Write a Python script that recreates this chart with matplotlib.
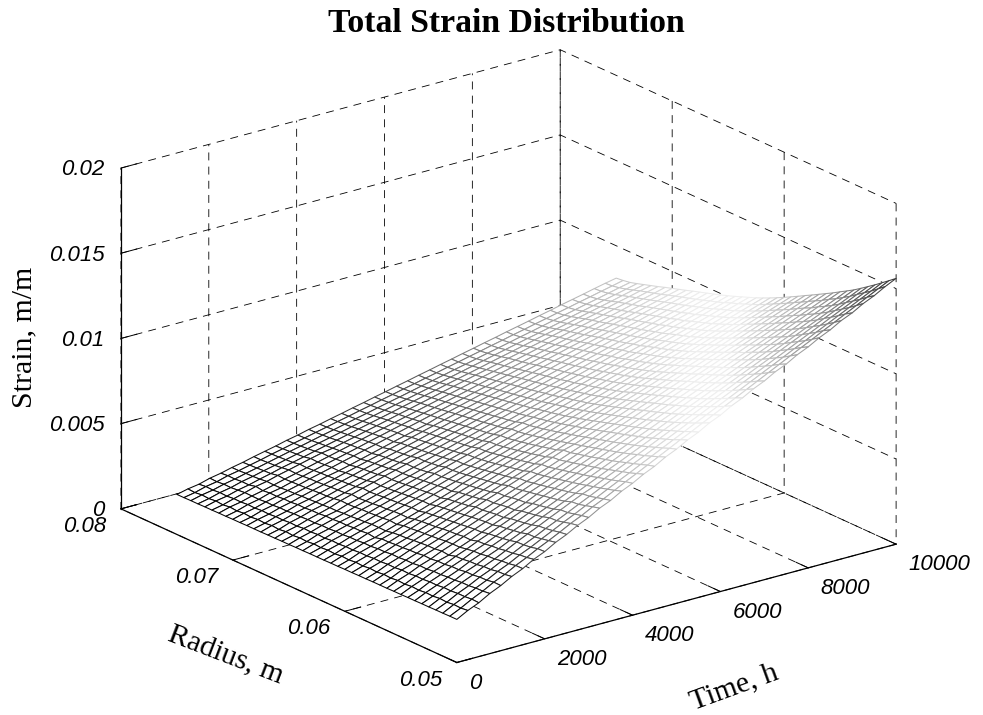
import matplotlib
matplotlib.use("Agg")
import matplotlib.pyplot as plt
import numpy as np
from matplotlib.colors import LinearSegmentedColormap, Normalize

time_h = [0, 250, 500, 750, 1000, 1250, 1500, 1750, 2000, 2250, 2500, 2750, 3000, 3250,
          3500, 3750, 4000, 4250, 4500, 4750, 5000, 5250, 5500, 5750, 6000, 6250, 6500,
          6750, 7000, 7250, 7500, 7750, 8000, 8250, 8500, 8750, 9000, 9250, 9500, 9750, 10000]
radius_m = [0.05, 0.050625, 0.05125, 0.051875, 0.0525, 0.053125, 0.05375, 0.054375, 0.055,
            0.055625, 0.05625, 0.056875, 0.0575, 0.058125, 0.05875, 0.059375, 0.06, 0.060625,
            0.06125, 0.061875, 0.0625, 0.063125, 0.06375, 0.064375, 0.065, 0.065625, 0.06625,
            0.066875, 0.0675, 0.068125, 0.06875, 0.069375, 0.07, 0.070625, 0.07125, 0.071875,
            0.0725, 0.073125, 0.07375, 0.074375, 0.075]
# strain in 1e-5 m/m, rows are radius, columns are time
strain_e5 = [
    [253, 288, 316, 353, 382, 418, 447, 484, 512, 549, 578, 614, 643, 680, 708, 745, 774, 810, 839, 876, 905, 941, 970, 1007, 1035, 1072, 1101, 1137, 1166, 1203, 1231, 1268, 1297, 1333, 1362, 1399, 1427, 1464, 1493, 1529, 1560],
    [253, 283, 318, 348, 383, 411, 446, 476, 510, 540, 572, 606, 635, 669, 698, 731, 764, 795, 827, 859, 891, 924, 954, 987, 1018, 1050, 1082, 1114, 1146, 1178, 1210, 1242, 1274, 1305, 1338, 1369, 1401, 1433, 1465, 1497, 1528],
    [252, 285, 314, 347, 376, 410, 438, 472, 500, 532, 563, 595, 625, 657, 687, 719, 750, 780, 812, 843, 874, 905, 936, 968, 999, 1030, 1061, 1092, 1123, 1154, 1185, 1216, 1248, 1278, 1310, 1341, 1372, 1403, 1434, 1465, 1497],
    [252, 280, 314, 342, 375, 402, 435, 463, 495, 524, 556, 585, 615, 646, 676, 707, 737, 768, 798, 828, 859, 889, 919, 950, 980, 1011, 1041, 1071, 1102, 1132, 1162, 1193, 1223, 1254, 1284, 1314, 1345, 1375, 1405, 1436, 1466],
    [251, 283, 310, 342, 369, 401, 428, 460, 493, 523, 552, 583, 612, 642, 671, 696, 726, 755, 785, 815, 844, 874, 904, 933, 963, 993, 1022, 1052, 1082, 1111, 1141, 1170, 1200, 1230, 1259, 1289, 1319, 1348, 1378, 1408, 1437],
    [251, 278, 311, 337, 369, 394, 426, 452, 483, 511, 540, 570, 598, 627, 656, 685, 714, 743, 771, 800, 829, 858, 887, 916, 945, 974, 1002, 1031, 1060, 1089, 1118, 1147, 1176, 1205, 1234, 1263, 1291, 1320, 1349, 1378, 1408],
    [250, 280, 306, 336, 362, 393, 419, 449, 476, 505, 532, 561, 589, 617, 646, 674, 702, 730, 758, 787, 815, 843, 871, 900, 928, 956, 984, 1013, 1041, 1069, 1097, 1126, 1154, 1182, 1210, 1239, 1267, 1295, 1323, 1352, 1380],
    [250, 275, 307, 332, 362, 387, 417, 442, 471, 498, 526, 554, 581, 609, 636, 664, 692, 719, 747, 774, 802, 830, 857, 885, 912, 940, 968, 995, 1023, 1050, 1078, 1106, 1133, 1161, 1188, 1216, 1244, 1271, 1299, 1326, 1355],
    [249, 278, 303, 332, 356, 386, 411, 440, 466, 493, 520, 547, 574, 601, 628, 655, 682, 709, 736, 763, 790, 817, 844, 871, 898, 925, 952, 979, 1006, 1033, 1060, 1087, 1115, 1142, 1169, 1196, 1223, 1250, 1277, 1304, 1331],
    [249, 273, 304, 327, 356, 374, 403, 428, 456, 482, 508, 535, 561, 592, 619, 645, 672, 698, 724, 751, 777, 804, 830, 856, 883, 909, 936, 962, 988, 1015, 1041, 1068, 1094, 1120, 1147, 1173, 1200, 1226, 1252, 1279, 1306],
    [248, 276, 299, 328, 350, 379, 403, 430, 455, 481, 507, 533, 558, 585, 610, 636, 662, 688, 714, 740, 766, 792, 817, 843, 869, 895, 921, 947, 973, 999, 1025, 1051, 1077, 1103, 1128, 1154, 1180, 1206, 1232, 1257, 1283],
    [248, 271, 301, 322, 352, 373, 401, 424, 451, 476, 501, 527, 552, 577, 603, 628, 653, 678, 704, 729, 754, 780, 805, 830, 856, 881, 906, 931, 957, 982, 1007, 1033, 1058, 1083, 1108, 1134, 1159, 1184, 1210, 1235, 1260],
    [248, 274, 296, 323, 346, 373, 396, 422, 445, 471, 495, 520, 544, 569, 594, 619, 643, 668, 693, 717, 742, 767, 792, 816, 841, 866, 890, 915, 940, 964, 989, 1014, 1039, 1063, 1088, 1113, 1137, 1162, 1187, 1212, 1237],
    [247, 269, 297, 319, 345, 369, 392, 418, 441, 465, 495, 520, 543, 568, 592, 616, 640, 664, 689, 707, 731, 755, 779, 803, 828, 852, 876, 900, 924, 949, 973, 997, 1021, 1045, 1070, 1094, 1118, 1142, 1166, 1191, 1215],
    [247, 272, 293, 320, 341, 366, 389, 412, 436, 460, 483, 507, 530, 554, 578, 601, 625, 649, 672, 696, 719, 743, 767, 790, 814, 838, 861, 885, 908, 932, 956, 979, 1003, 1026, 1050, 1074, 1097, 1121, 1145, 1168, 1192],
    [246, 267, 294, 315, 340, 361, 386, 408, 431, 454, 477, 500, 523, 546, 569, 593, 616, 639, 662, 685, 708, 731, 754, 777, 800, 824, 847, 870, 893, 916, 939, 962, 985, 1008, 1031, 1055, 1078, 1101, 1124, 1147, 1170],
    [246, 270, 290, 315, 336, 359, 381, 405, 426, 449, 471, 494, 516, 539, 562, 584, 607, 629, 652, 675, 697, 720, 742, 765, 787, 810, 833, 855, 878, 900, 923, 945, 968, 991, 1013, 1036, 1058, 1081, 1103, 1126, 1148],
    [245, 265, 291, 310, 336, 355, 379, 399, 422, 444, 466, 488, 510, 532, 554, 576, 598, 620, 642, 664, 686, 708, 730, 752, 774, 796, 818, 840, 862, 884, 906, 928, 950, 973, 995, 1017, 1039, 1061, 1083, 1105, 1127],
    [245, 268, 287, 311, 325, 347, 368, 390, 411, 433, 454, 476, 504, 525, 547, 568, 590, 611, 633, 654, 676, 698, 719, 741, 762, 784, 805, 827, 848, 870, 891, 913, 935, 956, 978, 999, 1021, 1042, 1064, 1085, 1107],
    [244, 263, 288, 307, 331, 348, 372, 391, 413, 434, 455, 476, 497, 518, 539, 560, 582, 603, 624, 645, 666, 687, 708, 729, 750, 772, 793, 814, 835, 856, 877, 898, 919, 940, 962, 983, 1004, 1025, 1046, 1067, 1088],
    [244, 266, 284, 307, 326, 348, 367, 389, 409, 430, 450, 471, 492, 512, 533, 554, 574, 595, 616, 636, 657, 678, 698, 719, 740, 760, 781, 802, 822, 843, 864, 884, 905, 926, 946, 967, 988, 1008, 1029, 1050, 1070],
    [244, 262, 286, 303, 326, 344, 365, 384, 405, 426, 446, 466, 487, 507, 527, 548, 568, 588, 608, 629, 649, 669, 689, 710, 730, 750, 770, 791, 811, 831, 851, 872, 892, 912, 933, 953, 973, 993, 1014, 1034, 1054],
    [243, 265, 281, 304, 322, 342, 362, 383, 402, 422, 442, 462, 487, 507, 527, 546, 566, 586, 606, 626, 646, 661, 681, 701, 721, 740, 760, 780, 800, 820, 840, 860, 880, 900, 920, 939, 959, 979, 999, 1019, 1038],
    [243, 260, 284, 300, 323, 338, 361, 378, 399, 418, 438, 457, 477, 496, 516, 535, 555, 574, 594, 613, 633, 652, 672, 691, 711, 730, 750, 769, 789, 808, 828, 847, 867, 886, 906, 925, 945, 964, 984, 1003, 1022],
    [242, 263, 280, 301, 319, 337, 357, 376, 395, 414, 433, 452, 471, 491, 510, 529, 548, 567, 586, 605, 624, 643, 662, 681, 700, 720, 739, 758, 777, 796, 815, 834, 853, 872, 891, 911, 930, 949, 968, 987, 1007],
    [242, 258, 282, 297, 320, 333, 355, 372, 392, 411, 430, 449, 467, 486, 505, 524, 543, 561, 580, 599, 618, 637, 655, 674, 693, 712, 731, 749, 768, 787, 806, 825, 843, 862, 881, 900, 919, 937, 956, 975, 993],
    [241, 262, 277, 298, 315, 333, 357, 376, 395, 413, 432, 450, 468, 487, 499, 518, 536, 555, 573, 591, 610, 628, 647, 665, 684, 702, 720, 739, 757, 776, 794, 813, 831, 849, 868, 886, 905, 923, 942, 960, 979],
    [241, 256, 279, 295, 315, 330, 350, 367, 386, 404, 422, 440, 458, 476, 494, 512, 531, 549, 567, 585, 603, 621, 639, 657, 675, 694, 712, 730, 748, 766, 784, 802, 820, 838, 856, 875, 893, 911, 929, 947, 966],
    [240, 260, 275, 295, 311, 329, 346, 365, 382, 400, 418, 436, 453, 471, 489, 507, 525, 543, 560, 578, 596, 614, 632, 649, 667, 685, 703, 721, 738, 756, 774, 792, 810, 827, 845, 863, 881, 899, 916, 934, 953],
    [240, 255, 276, 291, 312, 326, 345, 362, 380, 397, 415, 432, 450, 467, 485, 502, 520, 537, 555, 572, 590, 607, 625, 642, 660, 677, 695, 712, 730, 747, 765, 782, 800, 817, 835, 852, 870, 887, 905, 922, 940],
    [240, 258, 272, 292, 307, 325, 342, 359, 376, 394, 411, 428, 445, 463, 480, 497, 514, 531, 548, 566, 583, 600, 617, 634, 652, 669, 686, 703, 720, 737, 755, 772, 789, 806, 823, 841, 858, 875, 892, 909, 926],
    [239, 253, 274, 288, 308, 322, 339, 356, 373, 386, 402, 419, 436, 453, 470, 487, 504, 520, 542, 559, 576, 593, 610, 627, 643, 660, 677, 694, 711, 728, 745, 761, 778, 795, 812, 829, 846, 863, 879, 896, 913],
    [239, 257, 270, 289, 304, 321, 337, 355, 371, 387, 404, 420, 437, 453, 470, 486, 503, 519, 536, 552, 569, 585, 602, 618, 635, 651, 668, 684, 701, 717, 734, 750, 767, 783, 800, 816, 833, 849, 866, 882, 900],
    [238, 252, 272, 285, 305, 317, 335, 351, 368, 384, 400, 416, 432, 449, 465, 481, 497, 513, 530, 546, 562, 578, 594, 611, 627, 643, 659, 675, 692, 708, 724, 740, 756, 773, 789, 805, 821, 838, 854, 870, 887],
    [238, 256, 268, 286, 300, 316, 333, 349, 365, 381, 397, 413, 429, 445, 461, 476, 492, 508, 524, 540, 556, 572, 588, 604, 620, 635, 651, 667, 683, 699, 715, 731, 747, 763, 779, 794, 810, 826, 842, 858, 873],
    [237, 250, 269, 287, 306, 318, 336, 351, 367, 383, 398, 409, 425, 440, 456, 471, 487, 503, 518, 534, 549, 565, 581, 596, 612, 627, 643, 659, 674, 690, 705, 721, 737, 752, 768, 783, 799, 815, 830, 846, 860],
    [237, 254, 265, 283, 296, 313, 328, 345, 359, 374, 390, 405, 420, 435, 451, 466, 481, 496, 512, 527, 542, 557, 573, 588, 603, 618, 634, 649, 664, 679, 695, 710, 725, 740, 756, 771, 786, 801, 817, 832, 847],
    [236, 249, 267, 279, 297, 310, 326, 340, 356, 371, 386, 401, 415, 430, 445, 460, 475, 490, 505, 520, 535, 550, 565, 580, 595, 610, 625, 640, 655, 670, 685, 699, 714, 729, 744, 759, 774, 789, 804, 819, 834],
    [236, 252, 263, 280, 293, 309, 323, 338, 353, 368, 382, 397, 412, 426, 441, 456, 470, 485, 500, 514, 529, 544, 558, 573, 588, 602, 617, 632, 646, 661, 676, 690, 705, 720, 734, 749, 764, 778, 793, 808, 822],
    [235, 247, 265, 276, 294, 306, 321, 335, 351, 365, 380, 394, 409, 423, 438, 452, 467, 481, 496, 510, 525, 539, 554, 568, 583, 597, 612, 626, 641, 655, 670, 684, 699, 713, 728, 742, 757, 771, 786, 800, 815],
    [235, 250, 260, 278, 290, 306, 319, 335, 349, 363, 379, 392, 408, 421, 436, 450, 465, 479, 494, 508, 523, 537, 552, 566, 581, 595, 610, 624, 639, 653, 668, 682, 696, 711, 725, 740, 754, 768, 783, 797, 810],
]
time_ticks = [0, 2000, 4000, 6000, 8000, 10000]
radius_ticks = [0.05, 0.06, 0.07, 0.08]
strain_ticks = [0, 0.005, 0.01, 0.015, 0.02]
strain_tick_labels = ["0", "0.005", "0.01", "0.015", "0.02"]

plt.rcParams["font.family"] = ["Liberation Sans", "DejaVu Sans"]
plt.rcParams["grid.color"] = "black"
plt.rcParams["grid.linewidth"] = 0.6
plt.rcParams["grid.linestyle"] = (0, (9.5, 7.5))
plt.rcParams["axes.linewidth"] = 0.9

W, H = 983, 715
side = 693.5
fig = plt.figure(figsize=(W / 100, H / 100), dpi=100)
ax = fig.add_axes([152.4 / W, 2.75 / H, side / W, side / H], projection="3d", proj_type="ortho")
ax.view_init(elev=20.55, azim=-127.5)
ax.set_box_aspect((569, 567, 374), zoom=1.207)
ax.patch.set_visible(False)

T, R = np.meshgrid(time_h, radius_m)
Z = np.array(strain_e5) * 1e-5

# mesh colour goes black -> white -> dark with height
gray = LinearSegmentedColormap.from_list("edges", [
    (0.0, "#000000"), (0.125, "#202020"), (0.23, "#555555"), (0.313, "#909090"),
    (0.434, "#c8c8c8"), (0.54, "#eeeeee"), (0.615, "#f0f0f0"), (0.68, "#cccccc"),
    (0.796, "#999999"), (0.917, "#555555"), (1.0, "#303030")])
norm = Normalize(235e-5, 1560e-5)
centers = (Z[:-1, :-1] + Z[1:, :-1] + Z[:-1, 1:] + Z[1:, 1:]) / 4

surf = ax.plot_surface(T, R, Z, rstride=1, cstride=1, color="white", shade=False, linewidth=0.75)
surf.set_edgecolor(gray(norm(centers)).reshape(-1, 4))
surf.set_clip_on(False)

ax.set_xlim(0, 10000)
ax.set_ylim(0.05, 0.08)
ax.set_zlim(0, 0.02)
ax.set_xticks(time_ticks)
ax.set_yticks(radius_ticks)
ax.set_zticks(strain_ticks)
ax.set_xticklabels([str(t) for t in time_ticks], ha="left", va="center_baseline", fontstyle="italic")
ax.set_yticklabels([str(r) for r in radius_ticks], ha="right", va="center_baseline", fontstyle="italic")
ax.set_zticklabels(strain_tick_labels, ha="right", va="center_baseline", fontstyle="italic")

for axis in (ax.xaxis, ax.yaxis, ax.zaxis):
    axis.pane.set_visible(False)
    axis.line.set_color("black")
    axis.line.set_linewidth(0.9)
    axis._axinfo["tick"]["outward_factor"] = 0.45
    axis._axinfo["tick"]["inward_factor"] = 0.0
    axis._axinfo["tick"]["linewidth"] = {True: 0.7, False: 0.7}
ax.zaxis.set_ticks_position("upper")
ax.tick_params(labelsize=16)
ax.tick_params(axis="x", pad=1.5)
ax.tick_params(axis="y", pad=0.5)
ax.tick_params(axis="z", pad=-2.5)

fig.text(506 / W, 1 - 23 / H, "Total Strain Distribution", family="Liberation Serif",
         weight="bold", fontsize=24.3, ha="center", va="center")
fig.text(24 / W, 1 - 337 / H, "Strain, m/m", family="Liberation Serif", fontsize=21.5,
         rotation=90, ha="center", va="center")
fig.text(226 / W, 1 - 655 / H, "Radius, m", family="Liberation Serif", fontsize=21.5,
         rotation=-21, ha="center", va="center")
fig.text(734 / W, 1 - 687 / H, "Time, h", family="Liberation Serif", fontsize=21.5,
         rotation=20, ha="center", va="center")

fig.savefig("out.png", dpi=100)
